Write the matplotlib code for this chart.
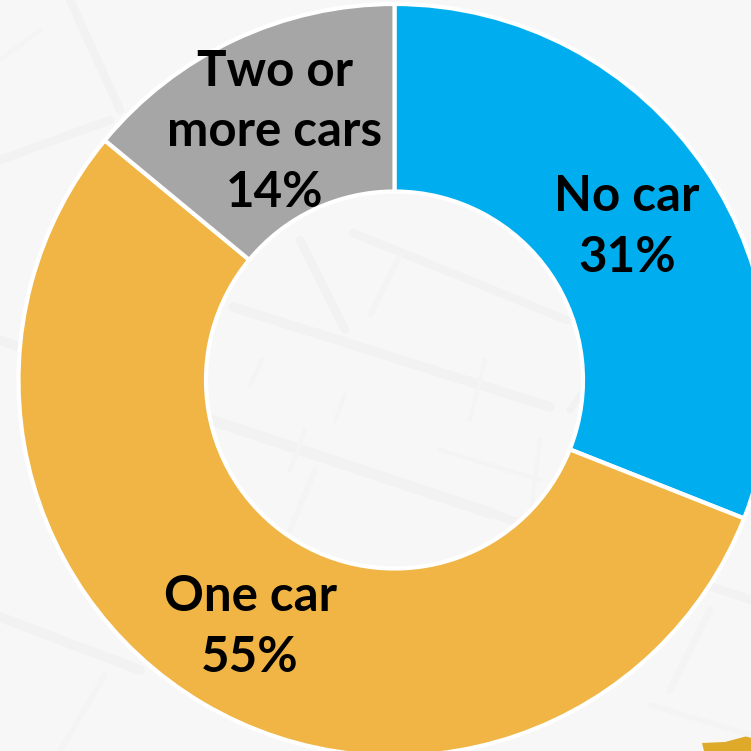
import matplotlib
matplotlib.use("Agg")
import matplotlib.pyplot as plt
from matplotlib.patches import Polygon

categories = ["No car", "One car", "Two or\nmore cars"]
shares = [31, 55, 14]
colors = ["#00AEEF", "#F0B545", "#A6A6A6"]
labels = ["No car\n31%", "One car\n55%", "Two or\nmore cars\n14%"]
label_px = [(627, 227), (250, 627), (275, 132)]

W = 751
fig = plt.figure(figsize=(W/100, W/100), dpi=100, facecolor="#F7F7F7")

# faint background street pattern
bg = fig.add_axes([0, 0, 1, 1])
bg.set_xlim(0, W); bg.set_ylim(W, 0); bg.axis("off")
wide = [
    ((0, 340), (220, 423), 7), ((220, 423), (490, 513), 8), ((490, 513), (751, 600), 6),
    ((233, 307), (550, 407), 7), ((353, 233), (567, 320), 6),
    ((0, 160), (110, 120), 6), ((70, 0), (120, 110), 6), ((0, 617), (140, 670), 7),
    ((300, 240), (345, 330), 6), ((570, 410), (620, 340), 5),
]
thin = [
    ((370, 315), (400, 255), 4), ((290, 470), (305, 430), 3), ((290, 530), (315, 470), 4),
    ((670, 690), (710, 610), 5), ((650, 705), (751, 735), 4), ((60, 751), (105, 675), 4),
    ((530, 520), (540, 440), 3), ((485, 360), (470, 420), 3), ((262, 360), (250, 385), 3),
    ((345, 395), (335, 420), 3), ((440, 450), (540, 480), 3), ((0, 60), (40, 30), 3),
]
for a, b, lw in wide:
    bg.plot([a[0], b[0]], [a[1], b[1]], color="#F2F2F2", lw=lw, solid_capstyle="round")
for a, b, lw in thin:
    bg.plot([a[0], b[0]], [a[1], b[1]], color="#F4F4F4", lw=lw, solid_capstyle="round")
bg.add_patch(Polygon([(702, 743), (725, 742), (751, 735), (751, 751), (704, 751)], closed=True,
                     facecolor="#DFAA2A", edgecolor="none"))

# donut: center (394.5,380), outer radius 376, hole radius 188.5
cx, cy, R = 394.5, 380, 376
ax = fig.add_axes([(cx-R)/W, 1-(cy+R)/W, 2*R/W, 2*R/W])
ax.set_facecolor("none")
ax.pie(shares, colors=colors, startangle=90, counterclock=False, radius=1,
       wedgeprops=dict(width=1-188.5/376, edgecolor="white", linewidth=3))
ax.set_xlim(-1, 1); ax.set_ylim(-1, 1)

for t, (x, y) in zip(labels, label_px):
    fig.text(x/W, 1-y/W, t, ha="center", va="center", fontsize=35.5, fontweight="bold",
             family="Lato", color="black", linespacing=1.42)

fig.savefig("out.png", dpi=100, facecolor=fig.get_facecolor())
